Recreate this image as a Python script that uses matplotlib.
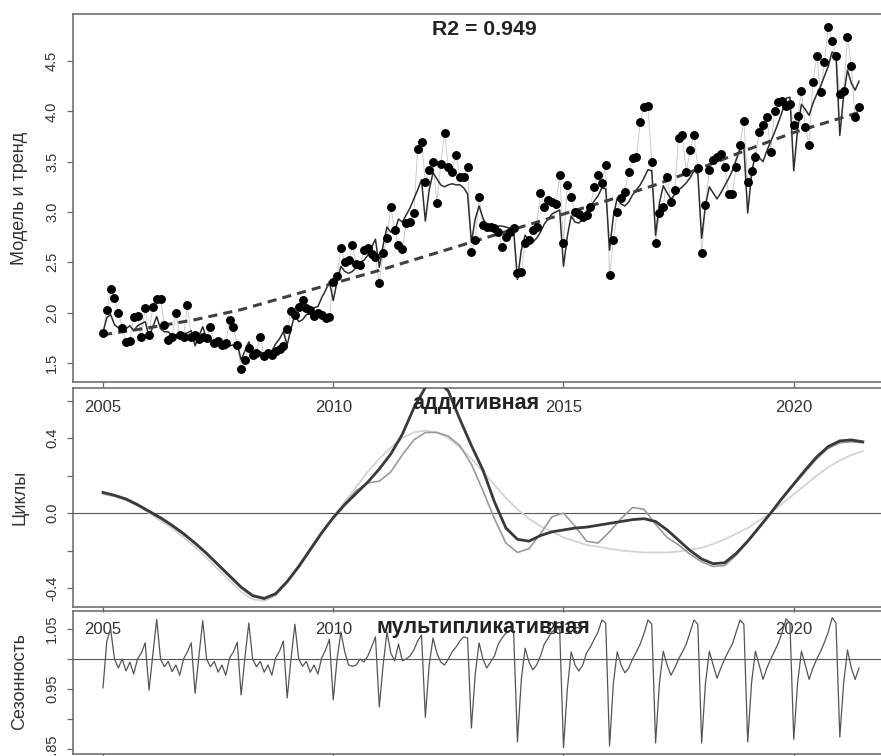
import numpy as np
import matplotlib
matplotlib.use('Agg')
import matplotlib.pyplot as plt

plt.rcParams['font.family'] = ['Liberation Sans', 'DejaVu Sans']

# ---------------- data ----------------
start_year = 2005
# observed monthly values, Jan 2005 .. Jun 2021
observed = [
    1.80, 2.03, 2.23, 2.15, 2.00, 1.85, 1.71, 1.72, 1.96, 1.97, 1.76, 2.05,  # 2005
    1.78, 2.06, 2.14, 2.14, 1.88, 1.73, 1.76, 2.00, 1.78, 1.76, 2.08, 1.76,  # 2006
    1.78, 1.74, 1.76, 1.75, 1.86, 1.70, 1.72, 1.68, 1.70, 1.93, 1.86, 1.68,  # 2007
    1.44, 1.53, 1.65, 1.58, 1.60, 1.76, 1.57, 1.60, 1.58, 1.62, 1.64, 1.67,  # 2008
    1.84, 2.02, 1.98, 2.06, 2.13, 2.05, 2.03, 1.97, 2.00, 1.98, 1.95, 1.96,  # 2009
    2.30, 2.36, 2.64, 2.50, 2.52, 2.67, 2.48, 2.47, 2.62, 2.64, 2.58, 2.55,  # 2010
    2.29, 2.59, 2.74, 3.05, 2.82, 2.67, 2.63, 2.89, 2.90, 2.99, 3.63, 3.70,  # 2011
    3.30, 3.42, 3.50, 3.09, 3.48, 3.78, 3.45, 3.40, 3.57, 3.35, 3.35, 3.45,  # 2012
    2.60, 2.72, 3.15, 2.87, 2.85, 2.85, 2.84, 2.80, 2.65, 2.75, 2.80, 2.84,  # 2013
    2.39, 2.40, 2.69, 2.72, 2.82, 2.85, 3.19, 3.05, 3.12, 3.10, 3.08, 3.37,  # 2014
    2.69, 3.27, 3.15, 3.00, 2.98, 2.95, 2.97, 3.05, 3.25, 3.37, 3.29, 3.47,  # 2015
    2.37, 2.72, 3.00, 3.14, 3.20, 3.40, 3.54, 3.55, 3.89, 4.04, 4.05, 3.50,  # 2016
    2.69, 2.99, 3.05, 3.35, 3.10, 3.22, 3.74, 3.76, 3.40, 3.62, 3.76, 3.44,  # 2017
    2.59, 3.07, 3.42, 3.52, 3.55, 3.58, 3.45, 3.18, 3.18, 3.45, 3.67, 3.90,  # 2018
    3.30, 3.41, 3.55, 3.79, 3.86, 3.94, 3.60, 4.00, 4.09, 4.10, 4.05, 4.07,  # 2019
    3.86, 3.95, 4.20, 3.84, 3.67, 4.29, 4.55, 4.19, 4.49, 4.84, 4.70, 4.55,  # 2020
    4.17, 4.20, 4.74, 4.45, 3.94, 4.04,                                      # 2021
]

# fitted model (thin line) monthly
model = [
    1.80, 1.95, 1.98, 1.88, 1.85, 1.88, 1.84, 1.87, 1.82, 1.87, 1.89, 1.91,
    1.76, 1.86, 1.96, 1.84, 1.81, 1.81, 1.77, 1.78, 1.75, 1.79, 1.80, 1.82,
    1.67, 1.77, 1.86, 1.74, 1.71, 1.71, 1.67, 1.68, 1.64, 1.67, 1.68, 1.69,
    1.53, 1.62, 1.71, 1.61, 1.59, 1.61, 1.59, 1.62, 1.62, 1.69, 1.74, 1.81,
    1.68, 1.84, 1.98, 1.91, 1.93, 1.98, 1.99, 2.05, 2.06, 2.15, 2.22, 2.31,
    2.12, 2.31, 2.46, 2.41, 2.39, 2.41, 2.45, 2.50, 2.52, 2.57, 2.65, 2.73,
    2.45, 2.67, 2.85, 2.80, 2.81, 2.93, 2.90, 2.97, 3.04, 3.13, 3.22, 3.32,
    2.91, 3.22, 3.39, 3.33, 3.27, 3.25, 3.27, 3.28, 3.27, 3.27, 3.24, 3.18,
    2.70, 2.93, 3.06, 2.94, 2.86, 2.85, 2.83, 2.86, 2.86, 2.85, 2.84, 2.82,
    2.33, 2.62, 2.77, 2.72, 2.70, 2.74, 2.80, 2.88, 2.93, 2.98, 3.00, 3.02,
    2.46, 2.76, 2.96, 2.90, 2.89, 2.93, 3.01, 3.05, 3.11, 3.16, 3.24, 3.23,
    2.62, 2.96, 3.14, 3.08, 3.06, 3.10, 3.17, 3.22, 3.27, 3.34, 3.42, 3.41,
    2.77, 3.09, 3.26, 3.19, 3.13, 3.17, 3.22, 3.25, 3.29, 3.34, 3.41, 3.38,
    2.74, 3.07, 3.25, 3.19, 3.13, 3.19, 3.26, 3.33, 3.41, 3.52, 3.63, 3.65,
    2.99, 3.37, 3.59, 3.54, 3.50, 3.61, 3.70, 3.79, 3.89, 4.00, 4.13, 4.14,
    3.41, 3.82, 4.07, 4.02, 3.96, 4.08, 4.17, 4.25, 4.35, 4.45, 4.59, 4.57,
    3.76, 4.16, 4.41, 4.28, 4.21, 4.30,
]

# trend (dashed line), yearly knots
trend_t = [2005, 2006, 2007, 2008, 2009, 2010, 2011, 2012, 2013, 2014,
           2015, 2016, 2017, 2018, 2019, 2020, 2021, 2021.42]
trend_v = [1.78, 1.85, 1.93, 2.03, 2.16, 2.29, 2.42, 2.56, 2.70, 2.84,
           2.98, 3.12, 3.27, 3.44, 3.62, 3.79, 3.93, 3.99]

# cycles, quarterly (2005.00 .. 2021.50)
cycle_add = [
    0.11, 0.095, 0.075, 0.045, 0.01, -0.025, -0.065, -0.11,
    -0.16, -0.215, -0.275, -0.335, -0.395, -0.44, -0.455, -0.43,
    -0.365, -0.285, -0.195, -0.105, -0.025, 0.045, 0.105, 0.165,
    0.235, 0.315, 0.42, 0.56, 0.67, 0.71, 0.65, 0.50,
    0.36, 0.23, 0.06, -0.08, -0.14, -0.15, -0.12, -0.10,
    -0.09, -0.08, -0.075, -0.065, -0.055, -0.045, -0.035, -0.03,
    -0.045, -0.09, -0.145, -0.20, -0.245, -0.27, -0.265, -0.215,
    -0.15, -0.075, 0.00, 0.08, 0.155, 0.23, 0.30, 0.355,
    0.385, 0.39, 0.38,
]
cycle_alt = [
    0.105, 0.09, 0.07, 0.04, 0.005, -0.03, -0.07, -0.115,
    -0.165, -0.22, -0.28, -0.34, -0.40, -0.445, -0.46, -0.435,
    -0.37, -0.29, -0.20, -0.11, -0.02, 0.05, 0.12, 0.16,
    0.17, 0.22, 0.31, 0.39, 0.43, 0.43, 0.41, 0.36,
    0.26, 0.12, -0.03, -0.16, -0.21, -0.19, -0.11, -0.02,
    0.00, -0.07, -0.15, -0.16, -0.10, -0.03, 0.03, 0.02,
    -0.06, -0.13, -0.17, -0.22, -0.26, -0.285, -0.28, -0.225,
    -0.155, -0.08, 0.00, 0.075, 0.15, 0.22, 0.29, 0.345,
    0.375, 0.38, 0.375,
]
cycle_smooth = [
    0.10, 0.09, 0.07, 0.04, 0.00, -0.04, -0.08, -0.13,
    -0.18, -0.24, -0.30, -0.36, -0.42, -0.46, -0.47, -0.44,
    -0.37, -0.28, -0.19, -0.10, -0.02, 0.06, 0.14, 0.22,
    0.29, 0.35, 0.40, 0.43, 0.44, 0.43, 0.40, 0.35,
    0.29, 0.22, 0.15, 0.08, 0.02, -0.03, -0.07, -0.10,
    -0.13, -0.15, -0.17, -0.18, -0.19, -0.20, -0.205, -0.21,
    -0.21, -0.21, -0.205, -0.195, -0.185, -0.165, -0.14, -0.11,
    -0.08, -0.04, 0.00, 0.05, 0.10, 0.15, 0.20, 0.245,
    0.28, 0.31, 0.33,
]

# multiplicative seasonal factors, monthly
season = [
    0.952, 1.030, 1.050, 1.000, 0.985, 1.000, 0.980, 0.995, 0.975, 1.000, 1.010, 1.027,
    0.948, 1.008, 1.066, 1.000, 0.987, 0.996, 0.979, 0.990, 0.973, 1.000, 1.012, 1.027,
    0.943, 1.005, 1.064, 1.000, 0.987, 0.996, 0.978, 0.990, 0.973, 1.002, 1.012, 1.028,
    0.940, 1.003, 1.060, 1.000, 0.987, 0.996, 0.978, 0.990, 0.973, 1.002, 1.013, 1.030,
    0.935, 1.000, 1.058, 1.000, 0.988, 0.996, 0.978, 0.990, 0.975, 1.002, 1.015, 1.033,
    0.932, 1.000, 1.045, 1.012, 0.990, 0.988, 0.990, 1.000, 0.995, 1.005, 1.020, 1.037,
    0.920, 0.990, 1.045, 1.010, 0.997, 1.025, 0.997, 1.000, 1.005, 1.015, 1.030, 1.040,
    0.903, 0.990, 1.035, 1.010, 0.995, 0.990, 1.000, 1.012, 1.020, 1.030, 1.037, 1.035,
    0.885, 0.975, 1.027, 1.000, 0.985, 0.995, 1.005, 1.025, 1.035, 1.043, 1.048, 1.045,
    0.862, 0.965, 1.018, 0.995, 0.982, 0.990, 1.005, 1.025, 1.035, 1.045, 1.050, 1.050,
    0.852, 0.950, 1.012, 0.990, 0.980, 0.990, 1.010, 1.020, 1.033, 1.045, 1.065, 1.060,
    0.855, 0.960, 1.012, 0.990, 0.977, 0.985, 1.000, 1.012, 1.025, 1.043, 1.065, 1.058,
    0.860, 0.960, 1.013, 0.990, 0.973, 0.985, 1.000, 1.012, 1.025, 1.045, 1.065, 1.058,
    0.860, 0.960, 1.013, 0.990, 0.968, 0.985, 1.000, 1.013, 1.025, 1.045, 1.065, 1.058,
    0.862, 0.960, 1.013, 0.990, 0.966, 0.985, 1.000, 1.013, 1.027, 1.045, 1.067, 1.060,
    0.866, 0.960, 1.013, 0.990, 0.966, 0.985, 1.000, 1.013, 1.028, 1.045, 1.069, 1.060,
    0.870, 0.960, 1.015, 0.985, 0.966, 0.985,
]

year_ticks = [2005, 2010, 2015, 2020]
year_labels = ['2005', '2010', '2015', '2020']
r2_text = 'R2 = 0.949'
title_add = 'аддитивная'
title_mult = 'мультипликативная'
ylab1 = 'Модель и тренд'
ylab2 = 'Циклы'
ylab3 = 'Сезонность'

t_month = start_year + np.arange(len(observed)) / 12.0
t_quarter = start_year + np.arange(len(cycle_add)) * 0.25

# ---------------- layout ----------------
W, H = 881, 756
def rect(l, t, r, b):
    return [l / W, 1 - b / H, (r - l) / W, (b - t) / H]

fig = plt.figure(figsize=(W / 100, H / 100), dpi=100)
fig.patch.set_facecolor('white')

ax1 = fig.add_axes(rect(73, 14, 886, 382))
ax2 = fig.add_axes(rect(73, 388, 886, 607))
ax3 = fig.add_axes(rect(73, 611, 886, 754))
for ax in (ax2, ax3):
    ax.set_facecolor('none')

xlim = (2004.349, 2022.003)
spine_col = '#666666'
txt_col = '#333333'
for ax in (ax1, ax2, ax3):
    ax.set_xlim(*xlim)
    for s in ax.spines.values():
        s.set_color(spine_col)
        s.set_linewidth(1.1)
    ax.spines['right'].set_visible(False)
    ax.tick_params(colors=spine_col, labelcolor=txt_col)

# ---- panel 1
ax1.set_ylim(1.311, 4.967)
ax1.plot(t_month, observed, color='#cccccc', lw=0.7, zorder=1)
ax1.plot(t_month, model, color='#2e2e2e', lw=1.1, zorder=3)
ax1.plot(trend_t, trend_v, color='#404040', lw=2.2, ls=(0, (3, 2)), zorder=4)
ax1.plot(t_month, observed, 'o', color='black', ms=5.4, mec='black', zorder=5)
ax1.set_yticks([1.5, 2.0, 2.5, 3.0, 3.5, 4.0, 4.5])
ax1.set_yticklabels(['1.5', '2.0', '2.5', '3.0', '3.5', '4.0', '4.5'],
                    rotation=90, va='center')
ax1.set_xticks(year_ticks)
ax1.set_xticklabels(year_labels)
ax1.text(0.5055, 0.959, r2_text, transform=ax1.transAxes, ha='center',
         va='center', fontsize=15.3, fontweight='bold', color='#222222')

# ---- panel 2
ax2.set_ylim(-0.501, 0.667)
ax2.axhline(0, color='#555555', lw=0.8, zorder=1)
ax2.plot(t_quarter, cycle_smooth, color='#d4d4d4', lw=1.3, zorder=2)
ax2.plot(t_quarter, cycle_alt, color='#9a9a9a', lw=1.2, zorder=3)
ax2.plot(t_quarter, cycle_add, color='#3a3a3a', lw=2.0, zorder=4)
ax2.set_yticks([-0.4, -0.2, 0.0, 0.2, 0.4, 0.6])
ax2.set_yticklabels(['-0.4', '', '0.0', '', '0.4', ''], rotation=90, va='center')
ax2.set_xticks(year_ticks)
ax2.set_xticklabels(year_labels)
ax2.text(0.4955, 0.93, title_add, transform=ax2.transAxes, ha='center',
         va='center', fontsize=15.5, fontweight='bold', color='#222222', zorder=6)

# ---- panel 3
ax3.set_ylim(0.8417, 1.08)
ax3.axhline(1.0, color='#555555', lw=0.8, zorder=1)
ax3.plot(t_month, season, color='#555555', lw=0.9, zorder=2)
ax3.set_yticks([0.85, 0.90, 0.95, 1.00, 1.05])
ax3.set_yticklabels(['0.85', '', '0.95', '', '1.05'], rotation=90, va='center')
ax3.set_xticks(year_ticks)
ax3.set_xticklabels([])
ax3.text(0.5045, 0.888, title_mult, transform=ax3.transAxes, ha='center',
         va='center', fontsize=15.5, fontweight='bold', color='#222222', zorder=6)

for ax in (ax1, ax2, ax3):
    ax.tick_params(axis='y', direction='out', length=4.5, width=0.9,
                   pad=5.5, labelsize=10.5)
ax1.tick_params(axis='x', direction='out', length=3.6, width=0.9,
                pad=9.0, labelsize=12)
ax2.tick_params(axis='x', direction='out', length=3.6, width=0.9,
                pad=7.5, labelsize=12)
ax3.tick_params(axis='x', direction='out', length=3.6, width=0.9)

fig.text(20 / W, 1 - 198 / H, ylab1, rotation=90, ha='center', va='center',
         fontsize=13, color=txt_col)
fig.text(20 / W, 1 - 497 / H, ylab2, rotation=90, ha='center', va='center',
         fontsize=13, color=txt_col)
fig.text(20 / W, 1 - 682 / H, ylab3, rotation=90, ha='center', va='center',
         fontsize=13, color=txt_col)

fig.savefig('out.png', dpi=100)
